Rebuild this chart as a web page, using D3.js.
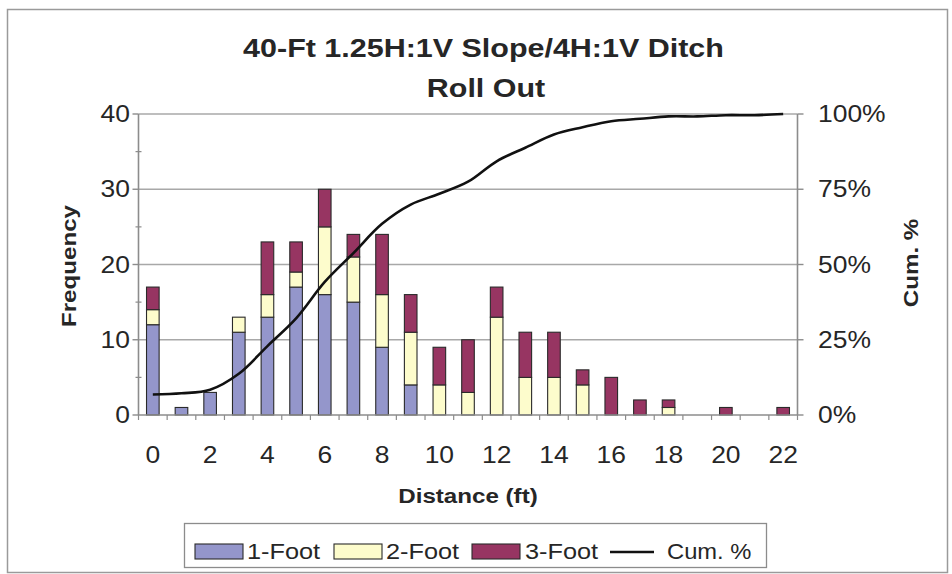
<!DOCTYPE html>
<html>
<head>
<meta charset="utf-8">
<script src="https://cdn.jsdelivr.net/npm/d3@7"></script>
<style>
  html, body { margin: 0; padding: 0; background: #fff; }
  svg { display: block; font-family: "Liberation Sans", Arial, sans-serif; }
</style>
</head>
<body>
<svg id="chart" width="952" height="574"></svg>
<script>
// Roll-out distance counts by drop height, plus the cumulative share
const categories = [0, 1, 2, 3, 4, 5, 6, 7, 8, 9, 10, 11, 12, 13, 14, 15, 16, 17, 18, 19, 20, 21, 22];
const oneFoot   = [12, 1, 3, 11, 13, 17, 16, 15, 9, 4, 0, 0, 0, 0, 0, 0, 0, 0, 0, 0, 0, 0, 0];
const twoFoot   = [2, 0, 0, 2, 3, 2, 9, 6, 7, 7, 4, 3, 13, 5, 5, 4, 0, 0, 1, 0, 0, 0, 0];
const threeFoot = [3, 0, 0, 0, 7, 4, 5, 3, 8, 5, 5, 7, 4, 6, 6, 2, 5, 2, 1, 0, 1, 0, 1];
const cumPct    = [6.8, 7.2, 8.4, 13.7, 22.9, 32.1, 44.2, 53.8, 63.5, 69.9, 73.5, 77.5, 84.3,
                   88.8, 93.2, 95.6, 97.6, 98.4, 99.2, 99.2, 99.6, 99.6, 100];
const seriesNames = ["1-Foot", "2-Foot", "3-Foot"];
const seriesColors = ["#9496cb", "#fdfccc", "#973562"];
const freqTicks = [0, 10, 20, 30, 40];
const freqMinorTicks = [5, 15, 25, 35];
const pctTicks = [0, 25, 50, 75, 100];
const xTickLabels = [0, 2, 4, 6, 8, 10, 12, 14, 16, 18, 20, 22];
const titleLines = ["40-Ft 1.25H:1V Slope/4H:1V Ditch", "Roll Out"];

const svg = d3.select("#chart");
const SX = 1.15;           // horizontal stretch of the lettering
const textCol = "#262626";

const plot = { left: 138.5, right: 797.5, top: 114, bottom: 415 };

// helper: text drawn with the horizontal stretch around its anchor point
function label(x, y, str, opts) {
  const o = Object.assign({ size: 23, weight: "normal", anchor: "middle", rotate: 0, stretch: SX }, opts || {});
  const g = svg.append("g")
    .attr("transform", `translate(${x},${y}) rotate(${o.rotate}) scale(${o.stretch},1)`);
  g.append("text")
    .attr("text-anchor", o.anchor)
    .attr("font-size", o.size)
    .attr("font-weight", o.weight)
    .attr("fill", textCol)
    .text(str);
  return g;
}

// outer chart frame
svg.append("rect")
  .attr("x", 7.5).attr("y", 9.5).attr("width", 940).attr("height", 563)
  .attr("fill", "#fff").attr("stroke", "#9a9a9a").attr("stroke-width", 1.5);

// scales
const x = d3.scaleBand().domain(categories).range([plot.left, plot.right]).paddingInner(0.56).paddingOuter(0.28);
const y = d3.scaleLinear().domain([0, 40]).range([plot.bottom, plot.top]);
const yPct = d3.scaleLinear().domain([0, 100]).range([plot.bottom, plot.top]);
const step = (plot.right - plot.left) / categories.length;

// gridlines
svg.append("g").selectAll("line").data(freqTicks.slice(1)).join("line")
  .attr("x1", plot.left).attr("x2", plot.right)
  .attr("y1", d => y(d)).attr("y2", d => y(d))
  .attr("stroke", "#a8a8a8").attr("stroke-width", 1.6);

// stacked bars
const table = categories.map((c, i) => ({ cat: c, s0: oneFoot[i], s1: twoFoot[i], s2: threeFoot[i] }));
const stack = d3.stack().keys(["s0", "s1", "s2"])(table);
svg.append("g").selectAll("g").data(stack).join("g")
  .attr("fill", (d, i) => seriesColors[i])
  .selectAll("rect").data(d => d.filter(p => p[1] - p[0] > 0)).join("rect")
  .attr("x", d => x(d.data.cat))
  .attr("width", x.bandwidth())
  .attr("y", d => y(d[1]))
  .attr("height", d => y(d[0]) - y(d[1]))
  .attr("stroke", "#2a2a2a").attr("stroke-width", 1.1);

// axes lines
const axisCol = "#8c8c8c";
svg.append("line").attr("x1", plot.left).attr("x2", plot.left).attr("y1", plot.top).attr("y2", plot.bottom)
  .attr("stroke", axisCol).attr("stroke-width", 1.6);
svg.append("line").attr("x1", plot.right).attr("x2", plot.right).attr("y1", plot.top).attr("y2", plot.bottom)
  .attr("stroke", axisCol).attr("stroke-width", 1.6);
svg.append("line").attr("x1", plot.left).attr("x2", plot.right).attr("y1", plot.bottom).attr("y2", plot.bottom)
  .attr("stroke", axisCol).attr("stroke-width", 1.6);

// left ticks (major outward, minor crossing)
svg.append("g").selectAll("line").data(freqTicks).join("line")
  .attr("x1", plot.left - 6).attr("x2", plot.left)
  .attr("y1", d => y(d)).attr("y2", d => y(d))
  .attr("stroke", axisCol).attr("stroke-width", 1.4);
svg.append("g").selectAll("line").data(freqMinorTicks).join("line")
  .attr("x1", plot.left - 3).attr("x2", plot.left + 3)
  .attr("y1", d => y(d)).attr("y2", d => y(d))
  .attr("stroke", axisCol).attr("stroke-width", 1.2);
// right ticks
svg.append("g").selectAll("line").data(pctTicks).join("line")
  .attr("x1", plot.right).attr("x2", plot.right + 6)
  .attr("y1", d => yPct(d)).attr("y2", d => yPct(d))
  .attr("stroke", axisCol).attr("stroke-width", 1.4);
// bottom ticks at category boundaries
svg.append("g").selectAll("line").data(d3.range(categories.length + 1)).join("line")
  .attr("x1", i => plot.left + i * step).attr("x2", i => plot.left + i * step)
  .attr("y1", plot.bottom).attr("y2", plot.bottom + 5)
  .attr("stroke", axisCol).attr("stroke-width", 1.2);

// cumulative line
const line = d3.line()
  .x((d, i) => x(categories[i]) + x.bandwidth() / 2)
  .y(d => yPct(d))
  .curve(d3.curveCatmullRom.alpha(0.5));
svg.append("path").datum(cumPct)
  .attr("d", line).attr("fill", "none")
  .attr("stroke", "#111").attr("stroke-width", 2.6);

// tick labels
freqTicks.forEach(t => label(130, y(t) + 8, String(t), { anchor: "end" }));
pctTicks.forEach(t => label(818, yPct(t) + 8, t + "%", { anchor: "start" }));
xTickLabels.forEach(t => label(x(t) + x.bandwidth() / 2, 463, String(t)));

// titles
label(483.5, 57, titleLines[0], { size: 26.5, weight: "bold" });
label(486, 97, titleLines[1], { size: 26.5, weight: "bold" });
label(468, 503, "Distance (ft)", { size: 21, weight: "bold" });
label(76, 266, "Frequency", { size: 21, weight: "bold", rotate: -90 });
label(918, 263, "Cum. %", { size: 21, weight: "bold", rotate: -90 });

// legend
const lg = svg.append("g");
lg.append("rect").attr("x", 184.5).attr("y", 523.5).attr("width", 582).attr("height", 44)
  .attr("fill", "#fff").attr("stroke", "#8c8c8c").attr("stroke-width", 1.3);
const swatchX = [195, 334, 472];
const textX = [247, 386, 525];
seriesNames.forEach((n, i) => {
  lg.append("rect").attr("x", swatchX[i]).attr("y", 544).attr("width", 48).attr("height", 15)
    .attr("fill", seriesColors[i]).attr("stroke", "#2a2a2a").attr("stroke-width", 1.1);
  label(textX[i], 559, n, { size: 22, anchor: "start" });
});
lg.append("line").attr("x1", 610).attr("x2", 654).attr("y1", 552).attr("y2", 552)
  .attr("stroke", "#111").attr("stroke-width", 2.6);
label(667, 559, "Cum. %", { size: 22, anchor: "start", stretch: 1.08 });
</script>
</body>
</html>
